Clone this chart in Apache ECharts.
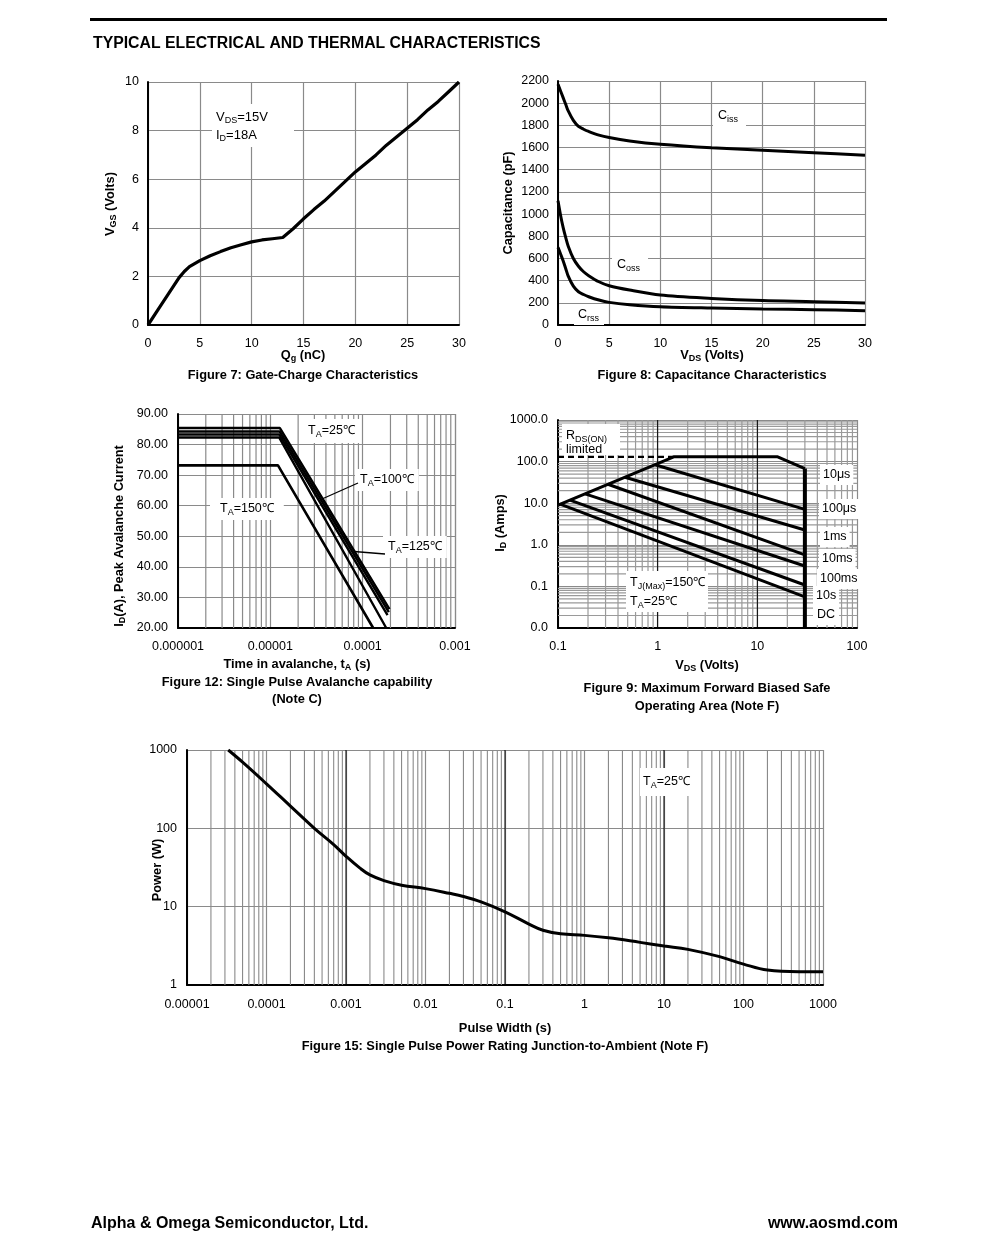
<!DOCTYPE html>
<html><head><meta charset="utf-8">
<script src="https://cdn.jsdelivr.net/npm/echarts@6/dist/echarts.min.js"></script>
<style>html,body{margin:0;padding:0;background:#fff}#c{width:991px;height:1252px}</style>
</head><body><div id="c"></div>
<script>
// ---------- Figure 7: Gate charge ----------
const qg  = [0,1,2,3,3.5,4,5,6,7,8,9,10,11,12,13,14,15,16,17,18,19,20,21,22,23,24,25,26,27,28,29,30];
const vgs = [0,0.65,1.3,1.95,2.2,2.4,2.65,2.85,3.02,3.18,3.3,3.42,3.5,3.55,3.6,3.96,4.37,4.75,5.1,5.5,5.9,6.3,6.65,7.0,7.4,7.75,8.1,8.45,8.85,9.2,9.6,10];
// ---------- Figure 8: Capacitance ----------
const vds8 = [0,0.25,0.5,0.75,1,1.5,2,2.5,3,4,5,7,10,15,20,25,30];
const ciss = [2170,2110,2050,1990,1930,1845,1790,1765,1745,1712,1690,1660,1630,1598,1575,1553,1530];
const coss = [1120,990,880,790,710,600,530,480,445,390,354,315,270,240,220,210,198];
const crss = [700,640,580,510,440,350,300,275,255,225,204,183,165,153,144,138,129];
// ---------- Figure 12: Avalanche ----------
const avT1 = [1e-6,1.27e-5,1.95e-4], avI1 = [85.4,85.4,26.2];
const avT2 = [1e-6,1.26e-5,1.92e-4], avI2 = [84.3,84.3,25.2];
const avT3 = [1e-6,1.25e-5,1.86e-4], avI3 = [83.3,83.3,24.2];
const avT4 = [1e-6,1.25e-5,1.80e-4], avI4 = [82.3,82.3,20];
const avT5 = [1e-6,1.21e-5,1.30e-4], avI5 = [73.2,73.2,20];
const t12Labels = ['0.000001','0.00001','0.0001','0.001'];
// ---------- Figure 9: SOA ----------
const envV = [0.1,1.45,16,30], envI = [9.0,130,130,68];
const dcV = [30,30], dcI = [68,0.01];
const rdsV = [0.1,1.45], rdsI = [130,130];
const soaV0 = [0.94,0.47,0.317,0.187,0.132,0.105];
const soaI0 = [84,42,28.5,16.8,11.9,9.45];
const soaV1 = [30,30,30,30,30,30];
const soaI1 = [7.1,2.27,0.57,0.31,0.108,0.056];
const soaNames = ['10μs','100μs','1ms','10ms','100ms','10s','DC'];
const v9Labels = ['0.1','1','10','100'];
const i9Labels = ['0.0','0.1','1.0','10.0','100.0','1000.0'];
// ---------- Figure 15: Single pulse power ----------
const pw  = [3.3e-5,5e-5,1e-4,2e-4,4e-4,7e-4,1e-3,1.5e-3,2e-3,3e-3,5e-3,1e-2,2e-2,3e-2,5e-2,0.1,0.2,0.3,0.5,1,2,5,10,20,50,100,200,500,1000];
const pwr = [1000,700,370,192,100,62,44,31,25.4,21.5,18.8,17,14.8,13.5,11.5,8.6,6.0,5.0,4.5,4.3,4.0,3.5,3.15,2.85,2.3,1.85,1.55,1.48,1.48];
const t15Labels = ['0.00001','0.0001','0.001','0.01','0.1','1','10','100','1000'];
const p15Labels = ['1','10','100','1000'];

const FONT = '"Liberation Sans", Arial, Helvetica, sans-serif';
const GRAY = '#8a8a8a';
const TICK = 12.5;

function minors(lo, hi) { const o=[]; for (let e=lo;e<hi;e++) for (let m=2;m<=9;m++) o.push(m*Math.pow(10,e)); return o; }
function lg(v){ return Math.round(Math.log10(v)); }

const axLabel = (margin, fmt) => ({ fontFamily: FONT, fontSize: TICK, color:'#000', margin, formatter: fmt });
function valAxis(gi, min, max, interval, margin, fmt) {
  return { type:'value', gridIndex: gi, min, max, interval,
    axisLine:{show:true, onZero:false, lineStyle:{color:'#000', width:2}}, axisTick:{show:false},
    splitLine:{show:true, lineStyle:{color:GRAY, width:1.2}}, axisLabel: axLabel(margin, fmt || (v => String(v))) };
}
function logAxis(gi, min, max, split, margin, fmt) {
  return { type:'log', logBase:10, gridIndex: gi, min, max, splitNumber: split,
    axisLine:{show:true, onZero:false, lineStyle:{color:'#000', width:2}}, axisTick:{show:false},
    splitLine:{show:true, lineStyle:{color:GRAY, width:1.2}}, axisLabel: axLabel(margin, fmt) };
}
// reference grid lines drawn as broken line series through the axes
function gridLines(ai, xs, ys, xr, yr, color, width) {
  const data = [];
  xs.forEach(v => { data.push([v, yr[0]], [v, yr[1]], [v, '-']); });
  ys.forEach(v => { data.push([xr[0], v], [xr[1], v], ['-', v]); });
  return { type:'line', xAxisIndex: ai, yAxisIndex: ai, data, silent:true, z:1, connectNulls:false,
    showSymbol:false, symbol:'none', lineStyle:{color, width}, emphasis:{disabled:true} };
}
function curve(ai, xs, ys, opt) {
  opt = opt || {};
  return { type:'line', xAxisIndex: ai, yAxisIndex: ai, data: xs.map((x,i)=>[x, ys[i]]),
    showSymbol:false, symbol:'none', silent:true, z:5, smooth: opt.smooth || false,
    lineStyle:{color:'#000', width: opt.width || 3, type: opt.type || 'solid'} };
}

function T(x, y, text, o) {
  o = o || {};
  const size = o.size || 12.5, w = o.bold ? 'bold' : 'normal';
  const lh = o.lh || 16;
  const st = { text, fontFamily: FONT, fontSize: size, fontWeight: w, fill:'#000',
    align: o.align || 'left', verticalAlign: 'middle', lineHeight: lh,
    rich: { s: { fontFamily: FONT, fontSize: Math.round(size*0.72), fontWeight: w, lineHeight: Math.round(size*0.75), verticalAlign:'bottom', fill:'#000' } } };
  if (o.bg) { st.backgroundColor = o.bg; st.padding = o.pad || [2,4]; }
  return { type:'text', x, y, z:100, rotation: o.rot || 0, style: st };
}
const B = 12.8; // bold label size

const graphics = [
  { type:'rect', z:100, shape:{x:90, y:18, width:797, height:3}, style:{fill:'#000'} },
  T(93, 44, 'TYPICAL ELECTRICAL AND THERMAL CHARACTERISTICS', {bold:true, size:15.8}),
  T(91, 1224, 'Alpha & Omega Semiconductor, Ltd.', {bold:true, size:16}),
  T(898, 1224, 'www.aosmd.com', {bold:true, size:16, align:'right'}),
  // Fig 7
  T(110, 204, 'V{s|GS} (Volts)', {bold:true, size:B, rot:Math.PI/2, align:'center'}),
  T(303, 355, 'Q{s|g} (nC)', {bold:true, size:B, align:'center'}),
  T(303, 375, 'Figure 7: Gate-Charge Characteristics', {bold:true, size:B, align:'center'}),
  { type:'rect', z:90, shape:{x:212, y:104, width:82, height:43}, style:{fill:'#fff'} },
  T(216, 117, 'V{s|DS}=15V', {size:13}),
  T(216, 135, 'I{s|D}=18A', {size:13}),
  // Fig 8
  T(508, 203, 'Capacitance (pF)', {bold:true, size:B, rot:Math.PI/2, align:'center'}),
  T(712, 355, 'V{s|DS} (Volts)', {bold:true, size:B, align:'center'}),
  T(712, 375, 'Figure 8: Capacitance Characteristics', {bold:true, size:B, align:'center'}),
  T(713, 116, 'C{s|iss}', {bg:'#fff', pad:[3,8,3,5]}),
  T(612, 265, 'C{s|oss}', {bg:'#fff', pad:[3,8,3,5]}),
  T(574, 315, 'C{s|rss}', {bg:'#fff', pad:[2,5,2,4]}),
  // Fig 12
  T(119, 536, 'I{s|D}(A), Peak Avalanche Current', {bold:true, size:B, rot:Math.PI/2, align:'center'}),
  T(297, 664, 'Time in avalanche, t{s|A} (s)', {bold:true, size:B, align:'center'}),
  T(297, 682, 'Figure 12: Single Pulse Avalanche capability', {bold:true, size:B, align:'center'}),
  T(297, 699, '(Note C)', {bold:true, size:B, align:'center'}),
  T(302, 431, 'T{s|A}=25℃', {bg:'#fff', pad:[4,6]}),
  T(355, 480, 'T{s|A}=100℃', {bg:'#fff', pad:[3,5]}),
  T(383, 547, 'T{s|A}=125℃', {bg:'#fff', pad:[3,5]}),
  T(210, 509, 'T{s|A}=150℃', {bg:'#fff', pad:[3,10,3,10]}),
  { type:'line', z:101, shape:{x1:322, y1:499, x2:358, y2:483}, style:{stroke:'#000', lineWidth:1.3} },
  { type:'line', z:101, shape:{x1:354, y1:551.5, x2:385, y2:554}, style:{stroke:'#000', lineWidth:1.3} },
  // Fig 9
  T(500, 523, 'I{s|D} (Amps)', {bold:true, size:B, rot:Math.PI/2, align:'center'}),
  T(707, 665, 'V{s|DS} (Volts)', {bold:true, size:B, align:'center'}),
  T(707, 688, 'Figure 9: Maximum Forward Biased Safe', {bold:true, size:B, align:'center'}),
  T(707, 706, 'Operating Area (Note F)', {bold:true, size:B, align:'center'}),
  { type:'rect', z:90, shape:{x:562, y:424, width:58, height:31}, style:{fill:'#fff'} },
  T(566, 436, 'R{s|DS(ON)}', {}),
  T(566, 450, 'limited', {}),
  { type:'rect', z:90, shape:{x:626, y:571, width:82, height:41}, style:{fill:'#fff'} },
  T(630, 583, 'T{s|J(Max)}=150℃', {}),
  T(630, 602, 'T{s|A}=25℃', {}),
  T(820, 475, soaNames[0], {bg:'#fff', pad:[2,3]}),
  T(819, 509, soaNames[1], {bg:'#fff', pad:[2,3]}),
  T(820, 537, soaNames[2], {bg:'#fff', pad:[2,3]}),
  T(819, 559, soaNames[3], {bg:'#fff', pad:[2,3]}),
  T(817, 579, soaNames[4], {bg:'#fff', pad:[2,3]}),
  T(813, 596, soaNames[5], {bg:'#fff', pad:[2,3]}),
  T(813, 615, soaNames[6], {bg:'#fff', pad:[2,4]}),
  // Fig 15
  T(157, 870, 'Power (W)', {bold:true, size:B, rot:Math.PI/2, align:'center'}),
  T(505, 1028, 'Pulse Width (s)', {bold:true, size:B, align:'center'}),
  T(505, 1046, 'Figure 15: Single Pulse Power Rating Junction-to-Ambient (Note F)', {bold:true, size:B, align:'center'}),
  T(640, 782, 'T{s|A}=25℃', {bg:'#fff', pad:[6,8,6,3]})
];

const option = {
  animation:false,
  backgroundColor:'#fff',
  grid: [
    {left:148, top:82, width:311, height:243},
    {left:558, top:81, width:307, height:244},
    {left:178, top:414, width:277, height:214},
    {left:558, top:420, width:299, height:208},
    {left:187, top:750, width:636, height:235}
  ],
  xAxis: [
    valAxis(0, 0, 30, 5, 12),
    valAxis(1, 0, 30, 5, 12),
    logAxis(2, 1e-6, 1e-3, 3, 12, v => t12Labels[lg(v)+6]),
    logAxis(3, 0.1, 100, 3, 12, v => v9Labels[lg(v)+1]),
    logAxis(4, 1e-5, 1000, 8, 13, v => t15Labels[lg(v)+5])
  ],
  yAxis: [
    valAxis(0, 0, 10, 2, 9),
    valAxis(1, 0, 2200, 200, 9),
    valAxis(2, 20, 90, 10, 10, v => v.toFixed(2)),
    logAxis(3, 0.01, 1000, 5, 10, v => i9Labels[lg(v)+2]),
    logAxis(4, 1, 1000, 3, 10, v => p15Labels[lg(v)])
  ],
  series: [
    curve(0, qg, vgs, {width:3.2}),
    curve(1, vds8, ciss, {smooth:0.3}),
    curve(1, vds8, coss, {smooth:0.3}),
    curve(1, vds8, crss, {smooth:0.3}),
    gridLines(2, minors(-6,-3), [], [1e-6,1e-3], [20,90], GRAY, 1.2),
    curve(2, avT1, avI1, {width:2.4}), curve(2, avT2, avI2, {width:2.4}), curve(2, avT3, avI3, {width:2.4}),
    curve(2, avT4, avI4, {width:2.4}), curve(2, avT5, avI5, {width:2.6}),
    gridLines(3, minors(-1,2), minors(-2,3), [0.1,100], [0.01,1000], '#9a9a9a', 1.2),
    gridLines(3, [1,10], [], [0.1,100], [0.01,1000], '#000', 1),
    curve(3, rdsV, rdsI, {type:[6,4], width:2.2}),
    curve(3, envV, envI, {width:3}),
    curve(3, dcV, dcI, {width:4}),
    ...soaV0.map((v,i) => curve(3, [v, soaV1[i]], [soaI0[i], soaI1[i]], {width:3})),
    gridLines(4, minors(-5,3), [], [1e-5,1000], [1,1000], GRAY, 1.1),
    gridLines(4, [1e-3, 0.1, 10], [], [1e-5,1000], [1,1000], '#000', 1),
    curve(4, pw, pwr, {smooth:0.4, width:3})
  ],
  graphic: graphics
};
const chart = echarts.init(document.getElementById('c'));
chart.setOption(option);
</script></body></html>
